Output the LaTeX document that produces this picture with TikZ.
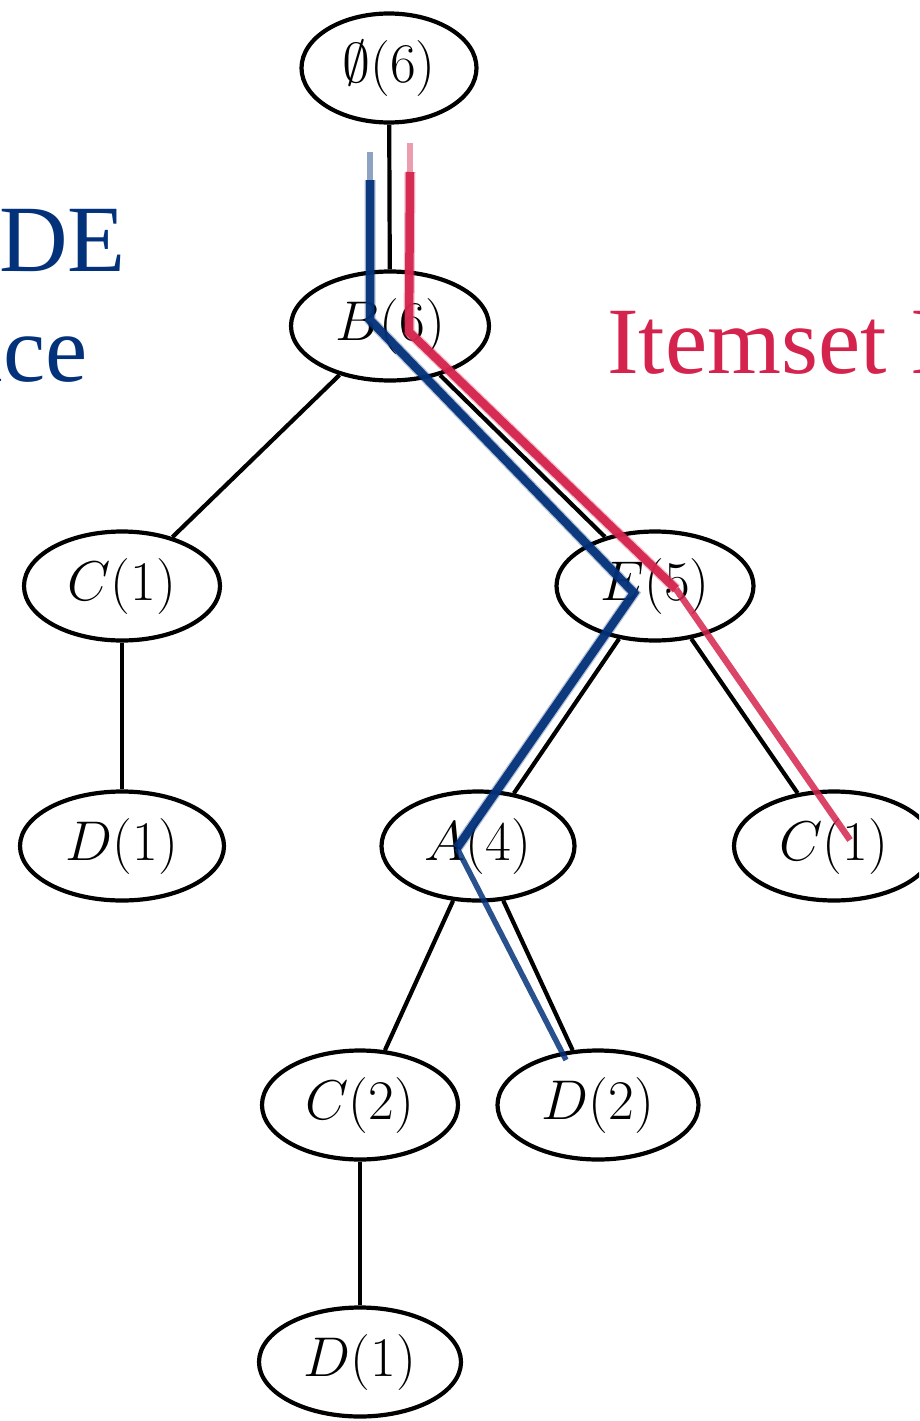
\RequirePackage{fix-cm}
\documentclass[tikz,border=0pt]{standalone}
\usepackage{fontspec}
\newfontfamily\tnr{Liberation Serif}
\usetikzlibrary{shapes.geometric}
\definecolor{hlblue}{RGB}{4,50,122}
\definecolor{hlred}{RGB}{212,36,78}
\DeclareMathSizes{56}{56}{40}{30}
\begin{document}
\begin{tikzpicture}[x=1pt,y=-1pt,
  tn/.style={ellipse,draw=black,line width=4.2pt,inner sep=0pt,minimum height=109pt,
             font=\fontsize{56}{60}\selectfont},
  edge/.style={draw=black,line width=4.2pt},
  bigtext/.style={font=\tnr\fontsize{95}{100}\selectfont,inner sep=0pt},
  brushhalo/.style={line width=11pt,opacity=0.3,line join=miter,line cap=butt},
  brushcore/.style={line width=8.5pt,opacity=0.95,line join=miter,line cap=butt},
  brushthin/.style={line width=5.5pt,opacity=0.85,line cap=butt},
  brushfade/.style={line width=6pt,opacity=0.45,line cap=butt}]
\useasboundingbox (0,0) rectangle (919,1421);
\clip (0,0) rectangle (919,1421);

% side texts (cropped in the reference)
\node[bigtext,text=hlblue,anchor=base east] (t1) at (126,271) {DE};
\node[bigtext,text=hlblue,anchor=base east] (t2) at (88,381) {nce};
\node[bigtext,text=hlred,anchor=base west] (t3) at (607,373) {Itemset I};

% tree nodes
\node[tn,minimum width=175pt] (r)  at (389,68)   {$\emptyset(6)$};
\node[tn,minimum width=198pt] (B)  at (390,326)  {$B(6)$};
\node[tn,minimum width=196pt] (C1) at (122,586)  {$C(1)$};
\node[tn,minimum width=197pt] (E)  at (655,586)  {$E(5)$};
\node[tn,minimum width=204pt] (D1) at (122,846)  {$D(1)$};
\node[tn,minimum width=193pt] (A)  at (478,846)  {$A(4)$};
\node[tn,minimum width=200pt] (Cr) at (834,846)  {$C(1)$};
\node[tn,minimum width=196pt] (C2) at (360,1105) {$C(2)$};
\node[tn,minimum width=201pt] (D2) at (598,1105) {$D(2)$};
\node[tn,minimum width=202pt] (Dd) at (360,1362) {$D(1)$};

% tree edges
\draw[edge] (r) -- (B);
\draw[edge] (B) -- (C1);
\draw[edge] (B) -- (E);
\draw[edge] (C1) -- (D1);
\draw[edge] (E) -- (A);
\draw[edge] (E) -- (Cr);
\draw[edge] (A) -- (C2);
\draw[edge] (A) -- (D2);
\draw[edge] (C2) -- (Dd);

% highlighted paths
\coordinate (b0) at (370,152);
\coordinate (b1) at (370,180);
\coordinate (b2) at (370,320);
\coordinate (b3) at (634,593);
\coordinate (b4) at (457,848);
\coordinate (b5) at (566,1060);
\coordinate (r0) at (410,143);
\coordinate (r1) at (410,172);
\coordinate (r2) at (409,332);
\coordinate (r3) at (676,589);
\coordinate (r4) at (850,840);

\draw[hlblue,brushfade] (b0) -- (b1);
\draw[hlblue,brushhalo] (b1) -- (b2) -- (b3) -- (b4);
\draw[hlblue,brushcore] (b1) -- (b2) -- (b3) -- (b4);
\draw[hlblue,brushthin] (b4) -- (b5);

\draw[hlred,brushfade] (r0) -- (r1);
\draw[hlred,brushhalo] (r1) -- (r2) -- (r3);
\draw[hlred,brushcore] (r1) -- (r2) -- (r3);
\draw[hlred,brushthin,line width=6.5pt] (r3) -- (r4);
\end{tikzpicture}
\end{document}
